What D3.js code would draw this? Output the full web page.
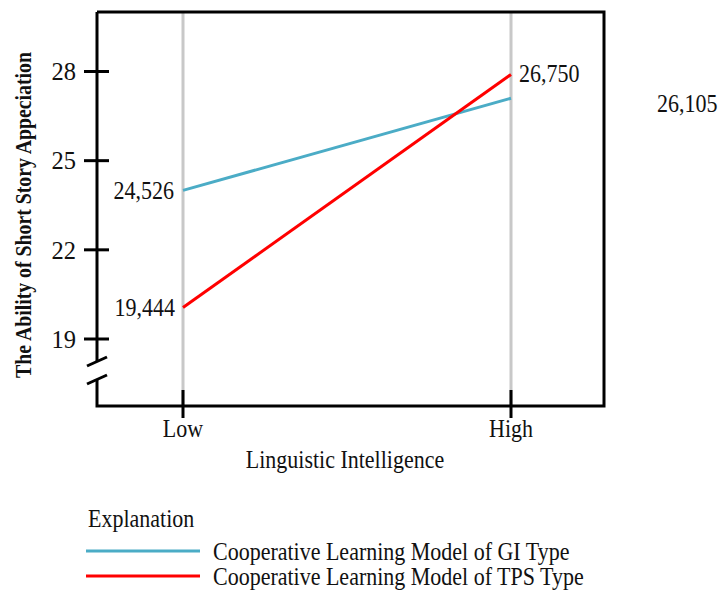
<!DOCTYPE html>
<html><head><meta charset="utf-8">
<script src="https://cdn.jsdelivr.net/npm/d3@7"></script>
<style>body{margin:0;background:#fff}svg{display:block}text{font-family:"Liberation Serif","Times New Roman",serif;fill:#111}</style>
</head><body><div id="chart"></div>
<script>
const categories = ["Low", "High"];
const yTicks = [19, 22, 25, 28];
const giValues = [24.0, 27.1];
const tpsValues = [20.06, 27.9];
const giLabels = ["24,526", "26,105"];
const tpsLabels = ["19,444", "26,750"];
const seriesNames = ["Cooperative Learning Model of GI Type", "Cooperative Learning Model of TPS Type"];
const colors = ["#4bacc6", "#ff0000"];

(function () {
const W = 725, H = 594;
const svg = d3.select("#chart").append("svg").attr("width", W).attr("height", H);
const fl = 97, fr = 604, ft = 12, fb = 406;
const x = d3.scalePoint().domain(categories).range([183, 511]);
const y = d3.scaleLinear().domain([19, 28]).range([339, 71.5]);
const FS = 25, SX = 0.88;

function txt(px, py, str, anchor, dy, sx) {
  const g = svg.append("g").attr("transform", `translate(${px},${py}) scale(${sx || SX},1)`);
  return g.append("text").attr("text-anchor", anchor || "start").attr("dy", dy || 0)
    .attr("font-size", FS).text(str);
}

categories.forEach(c => {
  svg.append("line").attr("x1", x(c)).attr("x2", x(c)).attr("y1", ft).attr("y2", fb)
    .attr("stroke", "#c8c8c8").attr("stroke-width", 3);
});

const k = "#000";
svg.append("path").attr("d", `M${fl},${ft}H${fr}V${fb}H${fl}V379`).attr("fill", "none").attr("stroke", k).attr("stroke-width", 3);
svg.append("line").attr("x1", fl).attr("x2", fl).attr("y1", ft).attr("y2", 361).attr("stroke", k).attr("stroke-width", 3);
svg.append("line").attr("x1", 87).attr("y1", 366).attr("x2", 107).attr("y2", 357).attr("stroke", k).attr("stroke-width", 3);
svg.append("line").attr("x1", 87).attr("y1", 384).attr("x2", 107).attr("y2", 375).attr("stroke", k).attr("stroke-width", 3);

yTicks.forEach(t => {
  svg.append("line").attr("x1", 84).attr("x2", 109).attr("y1", y(t)).attr("y2", y(t)).attr("stroke", k).attr("stroke-width", 3);
  txt(76, y(t), t, "end", "0.35em", 0.98);
});
categories.forEach(c => {
  svg.append("line").attr("x1", x(c)).attr("x2", x(c)).attr("y1", 390).attr("y2", 418).attr("stroke", k).attr("stroke-width", 3);
  txt(x(c), 437, c, "middle");
});
txt(345, 468, "Linguistic Intelligence", "middle");

const tg = svg.append("g");
const tt = tg.append("text").attr("text-anchor", "middle")
  .attr("font-size", 24).attr("font-weight", "bold")
  .text("The Ability of Short Story Appeciation");
const natural = tt.node().getComputedTextLength() || 400;
tg.attr("transform", `translate(31,215) rotate(-90) scale(${326 / natural},1)`);

const line = d3.line().x((d, i) => x(categories[i])).y(d => y(d));
[giValues, tpsValues].forEach((vals, s) => {
  svg.append("path").datum(vals).attr("d", line).attr("fill", "none").attr("stroke", colors[s]).attr("stroke-width", 3);
});

txt(174, y(giValues[0]), giLabels[0], "end", "0.35em");
txt(175, y(tpsValues[0]), tpsLabels[0], "end", "0.35em");
txt(519, y(tpsValues[1]) - 1.5, tpsLabels[1], "start", "0.35em");
txt(657, 103, giLabels[1], "start", "0.35em");

txt(88, 527, "Explanation", "start");
seriesNames.forEach((n, i) => {
  const ly = 551 + i * 25;
  svg.append("line").attr("x1", 86).attr("x2", 200).attr("y1", ly).attr("y2", ly).attr("stroke", colors[i]).attr("stroke-width", 3);
  txt(213, ly, n, "start", "0.35em");
});
})();
</script></body></html>
